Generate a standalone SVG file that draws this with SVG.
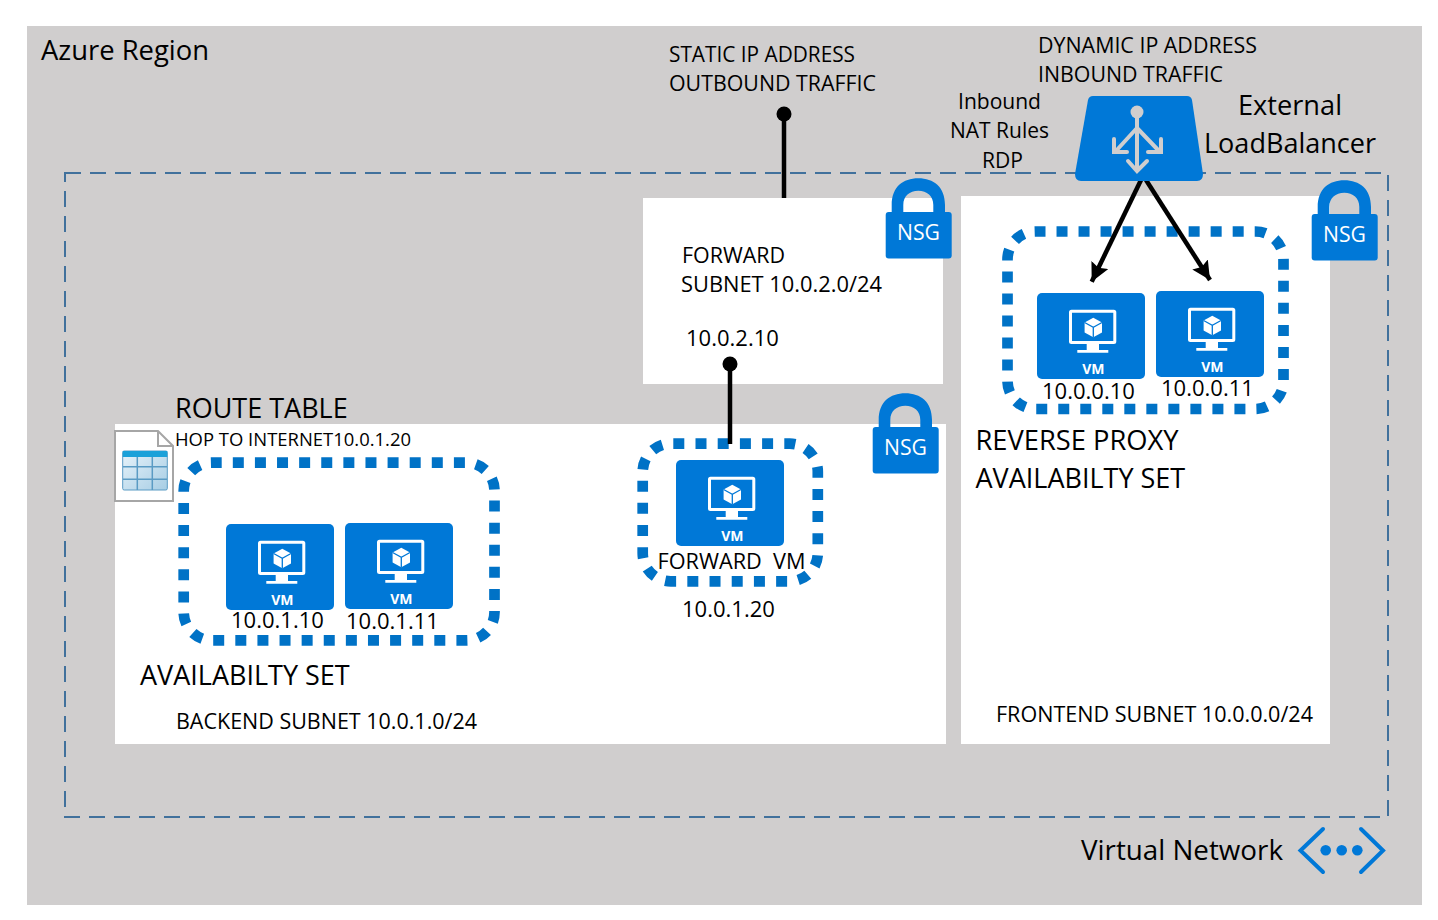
<svg xmlns="http://www.w3.org/2000/svg" width="1438" height="920" viewBox="0 0 1438 920">
<style>
text{font-family:"Open Sans","Noto Sans","Liberation Sans",sans-serif;fill:#000;white-space:pre}
.s{font-size:22px}.m{font-size:27px}.l{font-size:28px}.t{font-size:18px}
.aset{fill:none;stroke:#0072c6;stroke-width:10.700}
.conn{stroke:#000;stroke-width:4.500;fill:none}
.wh{fill:#fff}.blue{fill:#0078d7}
</style>
<defs>
<linearGradient id="cell" x1="0" y1="0" x2="1" y2="1"><stop offset="0" stop-color="#e8f3fa"/><stop offset="1" stop-color="#a6cde4"/></linearGradient>
<marker id="arr" viewBox="0 0 12 12" refX="12" refY="6" markerWidth="4.100" markerHeight="4.100" orient="auto"><path d="M0 0L12 6L0 12L2 6z" fill="#000"/></marker>
<symbol id="vm" width="108" height="86" viewBox="0 0 108 86" overflow="visible">
<rect width="108" height="86" rx="5" class="blue"/>
<rect x="33.500" y="18.200" width="44.300" height="31.300" rx="1" fill="none" stroke="#fff" stroke-width="3"/>
<path d="M49.700 51H62V57H71.300V59.700H40.300V57H49.700z" fill="#fff"/>
<path d="M56.300 24.700L65 29.500V39.500L56.300 44.300L47.600 39.500V29.500z" fill="#fff"/><path d="M47.600 29.500L56.300 34.300L65 29.500M56.300 34.300V44.300" stroke="#0078d7" stroke-width="1.300" fill="none"/>
<text x="56.300" y="81" text-anchor="middle" style="font-size:14px;font-weight:700;fill:#fff">VM</text>
</symbol>
<symbol id="nsg" width="66" height="82" viewBox="0 0 66 82" overflow="visible">
<path d="M6.700 38V28C6.700 10 18 1.300 33.300 1.300S60 10 60 28V38H48.300V28C48.300 19 42 13.700 33.300 13.700S18.300 19 18.300 28V38z" class="blue"/>
<rect x="0.700" y="35" width="66" height="46.500" rx="3" class="blue"/>
<text x="33.500" y="63" text-anchor="middle" textLength="43" lengthAdjust="spacingAndGlyphs" style="font-size:21px;fill:#fff">NSG</text>
</symbol>
</defs>
<rect width="1438" height="920" fill="#fff"/>
<rect id="region" x="27" y="26" width="1395" height="879" fill="#d0cece"/>
<g id="subnets">
<rect class="wh" x="115" y="424" width="831" height="320"/>
<rect class="wh" x="643" y="198" width="300" height="186"/>
<rect class="wh" x="961" y="196" width="369" height="548"/>
</g>
<rect id="vnet" x="65" y="173" width="1323" height="644" fill="none" stroke="#41719c" stroke-width="2" stroke-dasharray="16 9"/>
<g id="availability-sets">
<rect class="aset" x="1007.500" y="231.500" width="276" height="177.500" rx="28" stroke-dasharray="11 11.020" stroke-dashoffset="1"/>
<rect class="aset" x="183.700" y="462.700" width="310.800" height="177.600" rx="28" stroke-dasharray="11 11.110" stroke-dashoffset="1"/>
<rect class="aset" x="642.700" y="443.700" width="175.100" height="137.600" rx="28" stroke-dasharray="11 11.200" stroke-dashoffset="-2.600"/>
</g>
<g id="vm-10-0-0-10"><use href="#vm" x="1037" y="293"/><text class="s" x="1042" y="398.500">10.0.0.10</text></g>
<g id="vm-10-0-0-11"><use href="#vm" x="1156" y="291"/><text class="s" x="1161" y="395.800">10.0.0.11</text></g>
<g id="vm-10-0-1-10"><use href="#vm" x="226" y="524"/><text class="s" x="231" y="628">10.0.1.10</text></g>
<g id="vm-10-0-1-11"><use href="#vm" x="345" y="523"/><text class="s" x="346" y="629">10.0.1.11</text></g>
<g id="vm-forward"><use href="#vm" x="676" y="460"/><text class="s" x="657.500" y="568.500" textLength="148" lengthAdjust="spacingAndGlyphs">FORWARD  VM</text><text class="s" x="682" y="617">10.0.1.20</text></g>
<g id="nsg-forward"><use href="#nsg" x="885" y="177"/></g>
<g id="nsg-frontend"><use href="#nsg" x="1311" y="179"/></g>
<g id="nsg-backend"><use href="#nsg" x="872" y="392"/></g>
<g id="connectors">
<path class="conn" d="M784 114V198"/><circle cx="784" cy="114" r="7.500"/>
<path class="conn" d="M730 364V444"/><circle cx="730" cy="364" r="7.500"/>
<path class="conn" d="M1141 180L1091.700 281.700" marker-end="url(#arr)"/>
<path class="conn" d="M1146 180L1210 280" marker-end="url(#arr)"/>
</g>
<g id="load-balancer">
<path d="M1093 96H1187Q1191 96 1192 100L1203 174Q1203 181 1197 181H1081Q1075 181 1075 174L1088 100Q1089 96 1093 96z" class="blue"/>
<g fill="none" stroke="#d0cece" stroke-width="4" stroke-linecap="round">
<path d="M1137 112V171M1137 128L1115 152M1137 128L1160 152M1114 139V152H1127M1161 139V152H1148M1128 161L1137 171L1147 161"/>
</g>
<circle cx="1137" cy="112" r="6.500" fill="#d0cece"/>
</g>
<g id="route-table-icon">
<path d="M115 431H158L173 446V501H115z" fill="#fff" stroke="#a6a6a6" stroke-width="2"/>
<path d="M158 431V446H173" fill="none" stroke="#a6a6a6" stroke-width="2"/>
<rect x="122.700" y="451" width="44.600" height="39" rx="1.500" fill="url(#cell)" stroke="#5a9bc4" stroke-width="1"/>
<rect x="122.700" y="451" width="44.600" height="6" fill="#1ba1d9"/>
<path d="M123 466.700H167M123 479.300H167M137.300 457V490M152.300 457V490" stroke="#5a9bc4" stroke-width="1.500"/>
</g>
<g id="vnet-icon">
<path d="M1323 829L1300.500 850.500L1323 872M1361 829L1383 850.500L1361 872" fill="none" stroke="#0078d7" stroke-width="4" stroke-linecap="round"/>
<circle cx="1325.700" cy="850.300" r="5.300" class="blue"/><circle cx="1341.700" cy="850.300" r="5.300" class="blue"/><circle cx="1357.300" cy="850.300" r="5.300" class="blue"/>
</g>
<g id="labels">
<text class="l" x="41" y="60" textLength="168" lengthAdjust="spacingAndGlyphs">Azure Region</text>
<text class="s" x="669" y="62" textLength="186" lengthAdjust="spacingAndGlyphs">STATIC IP ADDRESS</text>
<text class="s" x="669" y="91" textLength="207" lengthAdjust="spacingAndGlyphs">OUTBOUND TRAFFIC</text>
<text class="s" x="1038" y="53" textLength="219" lengthAdjust="spacingAndGlyphs">DYNAMIC IP ADDRESS</text>
<text class="s" x="1038" y="82" textLength="185" lengthAdjust="spacingAndGlyphs">INBOUND TRAFFIC</text>
<text class="s" x="958" y="109" textLength="83" lengthAdjust="spacingAndGlyphs">Inbound</text>
<text class="s" x="950" y="138" textLength="99" lengthAdjust="spacingAndGlyphs">NAT Rules</text>
<text class="s" x="982" y="168" textLength="41" lengthAdjust="spacingAndGlyphs">RDP</text>
<text class="l" x="1238" y="115" textLength="104" lengthAdjust="spacingAndGlyphs">External</text>
<text class="l" x="1204" y="153" textLength="172" lengthAdjust="spacingAndGlyphs">LoadBalancer</text>
<text class="s" x="682" y="263" textLength="103" lengthAdjust="spacingAndGlyphs">FORWARD</text>
<text class="s" x="681" y="292" textLength="201" lengthAdjust="spacingAndGlyphs">SUBNET 10.0.2.0/24</text>
<text class="s" x="686" y="346">10.0.2.10</text>
<text class="m" x="175" y="418">ROUTE TABLE</text>
<text class="t" x="175" y="446" textLength="236" lengthAdjust="spacingAndGlyphs">HOP TO INTERNET10.0.1.20</text>
<text class="m" x="140" y="685">AVAILABILTY SET</text>
<text class="s" x="176" y="729" textLength="301" lengthAdjust="spacingAndGlyphs">BACKEND SUBNET 10.0.1.0/24</text>
<text class="m" x="975.500" y="450" textLength="203" lengthAdjust="spacingAndGlyphs">REVERSE PROXY</text>
<text class="m" x="975.500" y="488">AVAILABILTY SET</text>
<text class="s" x="996" y="722" textLength="317" lengthAdjust="spacingAndGlyphs">FRONTEND SUBNET 10.0.0.0/24</text>
<text class="l" x="1081" y="860" textLength="202" lengthAdjust="spacingAndGlyphs">Virtual Network</text>
</g>
</svg>
